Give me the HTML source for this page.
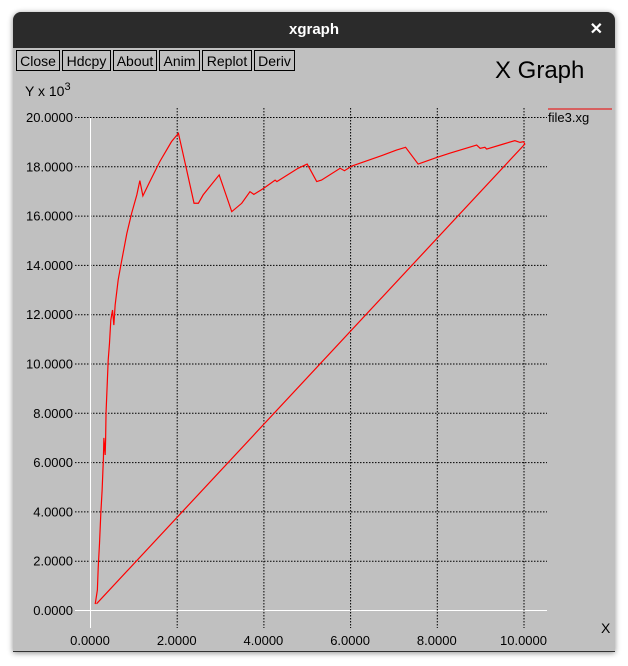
<!DOCTYPE html>
<html><head><meta charset="utf-8"><style>
body{margin:0;background:#fff;width:628px;height:666px;overflow:hidden;font-family:"Liberation Sans",sans-serif}
#win{position:absolute;left:13px;top:12px;width:602px;height:639px;background:#c0c0c0;border-radius:8px 8px 0 0;box-shadow:0 1px 6px rgba(0,0,0,.45);overflow:hidden;border-bottom:1px solid #333}
#title{position:absolute;left:0;top:0;width:602px;height:36px;background:#2b2b2b;color:#fff;font-weight:bold;font-size:15px;text-align:center;line-height:36px}
#close{position:absolute;right:12px;top:0;font-size:16px}
.btn{position:absolute;top:38px;height:21px;border:1px solid #000;font-size:14px;line-height:21px;text-align:center;box-sizing:border-box;color:#000}
</style></head><body>
<div id="win">
<div id="title">xgraph<span id="close">✕</span></div>
<div class="btn" style="left:3px;width:44px">Close</div>
<div class="btn" style="left:49px;width:49px">Hdcpy</div>
<div class="btn" style="left:100px;width:44px">About</div>
<div class="btn" style="left:146px;width:41px">Anim</div>
<div class="btn" style="left:189px;width:50px">Replot</div>
<div class="btn" style="left:241px;width:41px">Deriv</div>
</div>
<svg id="chart" width="628" height="666" style="position:absolute;left:0;top:0" font-family="Liberation Sans, sans-serif">
<text x="495" y="78" font-size="24">X Graph</text>
<text x="25" y="96" font-size="14">Y x 10<tspan dy="-6" font-size="11">3</tspan></text>
<text x="601" y="633" font-size="14">X</text>
<line x1="548" y1="109" x2="612" y2="109" stroke="#e00" stroke-width="1"/>
<text x="548" y="122" font-size="13">file3.xg</text>
<g id="grid"></g><g id="plot"></g>
</svg>
<script>
const xTicks=[0,2,4,6,8,10];
const yTicks=[0,2,4,6,8,10,12,14,16,18,20];
const seriesX=[0.12,0.17,0.19,0.22,0.25,0.28,0.31,0.32,0.35,0.36,0.37,0.42,0.45,0.48,0.52,0.55,0.58,0.65,0.72,0.85,0.96,1.08,1.15,1.22,1.38,1.61,1.88,2.04,2.23,2.40,2.50,2.61,2.98,3.27,3.50,3.69,3.78,4.0,4.27,4.31,4.80,5.01,5.23,5.34,5.77,5.87,6.04,6.77,7.07,7.28,7.57,8.0,8.30,8.92,9.0,9.11,9.15,9.53,9.80,9.92,10.0,10.03,0.15];
const seriesY=[0.24,0.81,1.74,2.72,3.94,4.87,6.2,6.98,6.29,6.9,8.0,10.14,10.83,11.76,12.17,11.56,12.37,13.39,14.07,15.28,16.09,16.84,17.42,16.8,17.38,18.19,19.0,19.34,17.85,16.5,16.5,16.84,17.65,16.16,16.5,16.97,16.86,17.1,17.44,17.38,17.92,18.09,17.38,17.44,17.92,17.82,18.01,18.46,18.66,18.77,18.09,18.36,18.53,18.86,18.73,18.77,18.7,18.9,19.04,18.97,19.0,18.9,0.25];
const X=v=>90+v*43.35, Y=v=>610-v*24.65;
const NS='http://www.w3.org/2000/svg';
const grid=document.getElementById('grid'), plot=document.getElementById('plot');
function mk(tag,at,parent){const e=document.createElementNS(NS,tag);for(const k in at)e.setAttribute(k,at[k]);parent.appendChild(e);return e;}
yTicks.forEach(v=>{
  const l=mk('line',{x1:75,x2:547,y1:Y(v)+0.5,y2:Y(v)+0.5,stroke:v===0?'#fff':'#000','stroke-dasharray':v===0?'':'1.5,1.5','stroke-width':1},grid);
  
  
  const t=mk('text',{x:73,y:Y(v)+5,'text-anchor':'end','font-size':13},grid);t.textContent=v.toFixed(4);
  
  
});
xTicks.forEach(v=>{
  const l=mk('line',{x1:X(v)+0.5,x2:X(v)+0.5,y1:v===0?118:108,y2:628,stroke:v===0?'#fff':'#000','stroke-dasharray':v===0?'':'1.5,1.5','stroke-width':1},grid);
  
  
  const t=mk('text',{x:X(v),y:645,'text-anchor':'middle','font-size':13},grid);t.textContent=v.toFixed(4);
  
  
});
const p=mk('polyline',{points:seriesX.map((x,i)=>X(x)+','+Y(seriesY[i])).join(' '),fill:'none',stroke:'#f00','stroke-width':1.2},plot);


</script>
</body></html>
